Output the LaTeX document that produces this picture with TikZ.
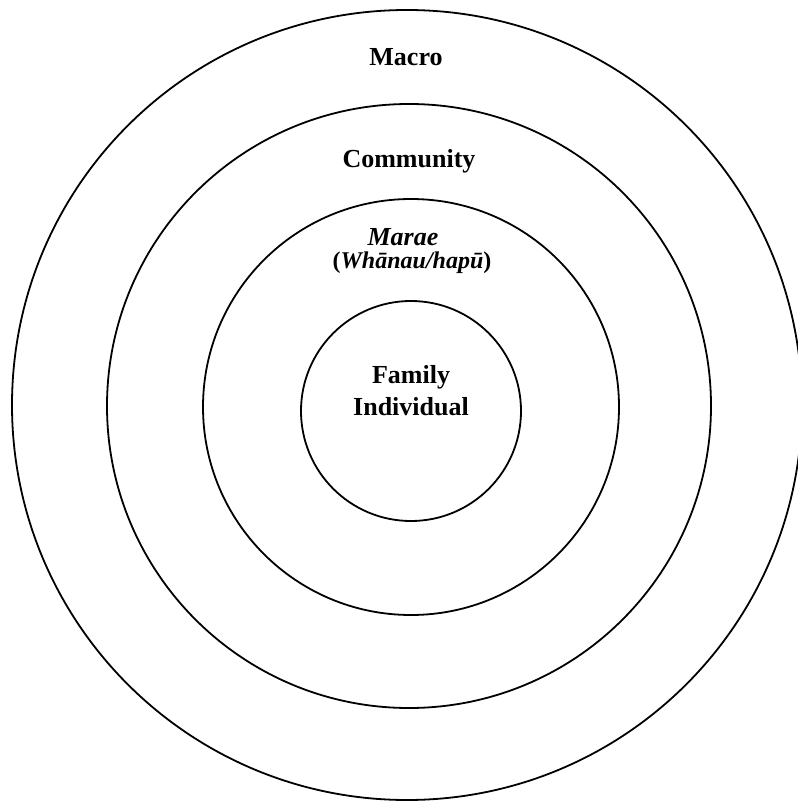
\documentclass[tikz,border=0pt]{standalone}
\usepackage{fontspec}
\setmainfont{Liberation Serif}
\begin{document}
\begin{tikzpicture}[x=1pt,y=-1pt,
  ring/.style={draw=black,line width=1.8pt,circle,inner sep=0pt},
  lbl/.style={font=\fontsize{26}{32}\selectfont\bfseries,anchor=base,inner sep=0pt,align=center},
  sublbl/.style={font=\fontsize{24}{28}\selectfont\bfseries,anchor=base,inner sep=0pt}]
\useasboundingbox (0,0) rectangle (797,802);
\node[ring,minimum size=790pt] (macro) at (407,405) {};
\node[ring,minimum size=604pt] (community) at (409,406) {};
\node[ring,minimum size=416pt] (marae) at (411,407) {};
\node[ring,minimum size=220pt] (family) at (411,411) {};
\node[lbl] (tmacro) at (406,66) {Macro};
\node[lbl] (tcomm) at (409,168) {Community};
\node[lbl] (tmarae) at (403,245) {\itshape Marae};
\node[sublbl] (twhanau) at (412,268) {(\textit{Whānau/hapū})};
\node[lbl] (tfam) at (411,383) {Family};
\node[lbl] (tind) at (411,415) {Individual};
\end{tikzpicture}
\end{document}
